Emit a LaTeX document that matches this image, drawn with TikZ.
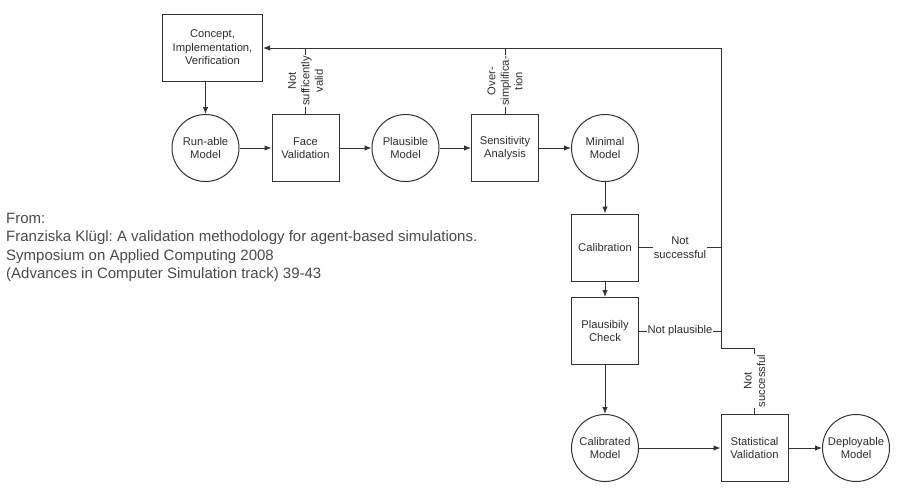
\documentclass[tikz,border=0pt]{standalone}
\usepackage{fontspec}
\setmainfont{Liberation Sans}
\usetikzlibrary{arrows.meta}
\definecolor{ln}{HTML}{333333}
\definecolor{tx}{HTML}{2E2E2E}
\definecolor{ct}{HTML}{4A4A4A}
\frenchspacing
\begin{document}
\begin{tikzpicture}[x=1pt,y=-1pt,
  every node/.style={text=tx, font=\fontsize{11.2}{13.5}\selectfont, align=center},
  boxn/.style={draw=ln, line width=1pt, minimum width=67pt, minimum height=67pt, inner sep=1pt},
  circn/.style={draw=ln, line width=1pt, circle, minimum size=67pt, inner sep=1pt},
  arr/.style={draw=ln, line width=1pt, -{Latex[length=7pt,width=5.5pt]}},
  fbl/.style={draw=ln, line width=1pt},
  lbl/.style={fill=white, inner sep=1pt}]
\useasboundingbox (0,0) rectangle (897,496);

\node[boxn, minimum width=100pt] (concept) at (212.5,47.5) {Concept,\\Implementation,\\Verification};
\node[circn] (run) at (205.5,148) {Run-able\\Model};
\node[boxn] (face) at (305.5,148) {Face\\Validation};
\node[circn] (plaus) at (405.5,148) {Plausible\\Model};
\node[boxn] (sens) at (505,148) {Sensitivity\\Analysis};
\node[circn] (minimal) at (605,148) {Minimal\\Model};
\node[boxn] (calib) at (605,247.5) {Calibration};
\node[boxn] (pcheck) at (605,331) {Plausibily\\Check};
\node[circn] (calmod) at (605,448) {Calibrated\\Model};
\node[boxn] (stat) at (754.5,448) {Statistical\\Validation};
\node[circn] (deploy) at (856,448) {Deployable\\Model};

\coordinate (fbtop) at (721,48);
\coordinate (fbbot) at (721,348);
\coordinate (fbknee) at (754.5,348);

% branch lines with labels
\draw[fbl] (face.north) -- node[lbl, rotate=90] {Not\\sufficently\\valid} (face.north |- fbtop);
\draw[fbl] (sens.north) -- node[lbl, rotate=90] {Over-\\simplifica-\\tion} (sens.north |- fbtop);
\draw[fbl] (calib.east) -- node[lbl] {Not\\successful} (calib.east -| fbtop);
\draw[fbl] (pcheck.east) -- node[lbl] {Not plausible} (pcheck.east -| fbtop);

% main feedback path
\draw[arr] (stat.north) -- node[lbl, rotate=90] {Not\\successful} (fbknee) -- (fbbot) -- (fbtop) -- (concept.east |- fbtop);

% forward flow
\draw[arr] (concept.south -| run.north) -- (run.north);
\draw[arr] (run) -- (face);
\draw[arr] (face) -- (plaus);
\draw[arr] (plaus) -- (sens);
\draw[arr] (sens) -- (minimal);
\draw[arr] (minimal) -- (calib);
\draw[arr] (calib) -- (pcheck);
\draw[arr] (pcheck) -- (calmod);
\draw[arr] (calmod) -- (stat);
\draw[arr] (stat) -- (deploy);

% citation
\node[anchor=north west, align=left, text=ct, inner sep=0pt,
  font=\fontsize{15}{18.3}\selectfont] (cite) at (6,213)
  {From:\\Franziska Klügl: A validation methodology for agent-based simulations.\\Symposium on Applied Computing 2008\\(Advances in Computer Simulation track) 39-43};
\end{tikzpicture}
\end{document}
